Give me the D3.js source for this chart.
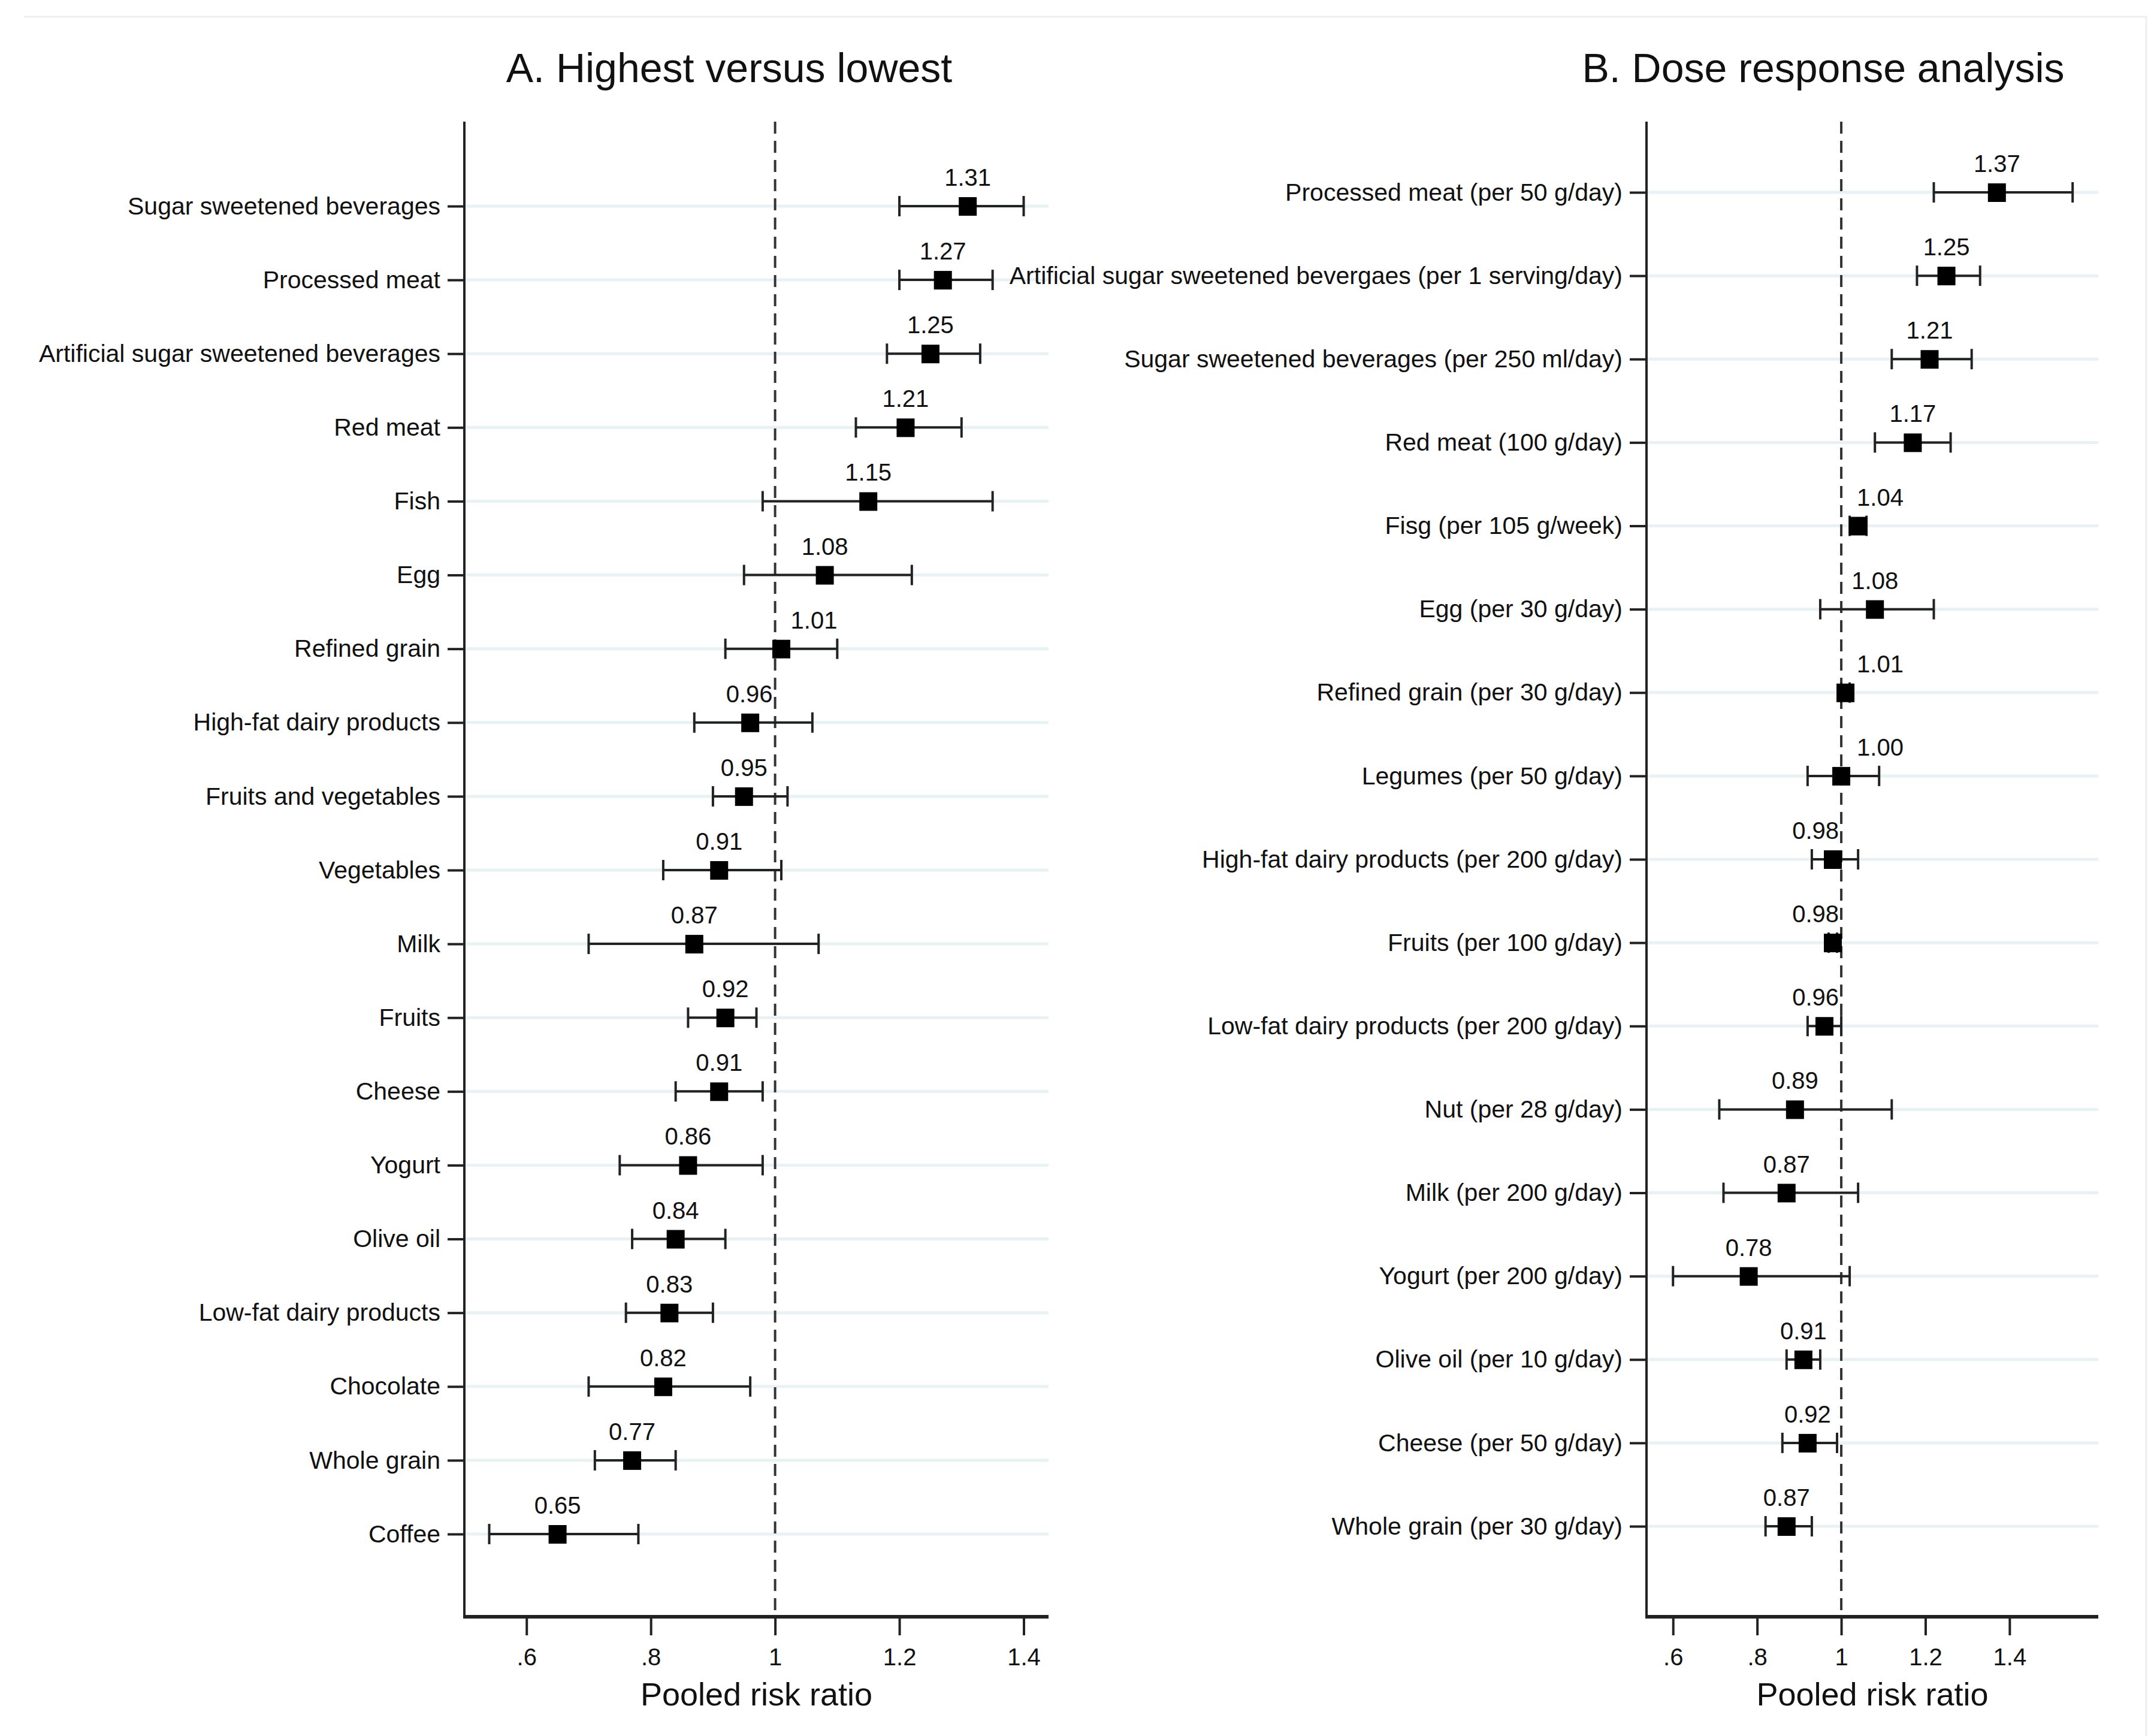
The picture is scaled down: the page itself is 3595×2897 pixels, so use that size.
<!DOCTYPE html>
<html>
<head>
<meta charset="utf-8">
<script src="https://cdn.jsdelivr.net/npm/d3@7"></script>
<style>
  body { margin: 0; background: #fff; }
  text { font-family: "Liberation Sans", Arial, sans-serif; fill: #111; }
</style>
</head>
<body>
<svg id="chart"></svg>
<script>
const W = 3595, H = 2897;

// panel A: highest versus lowest
const labelsA = ["Sugar sweetened beverages", "Processed meat", "Artificial sugar sweetened beverages",
  "Red meat", "Fish", "Egg", "Refined grain", "High-fat dairy products", "Fruits and vegetables",
  "Vegetables", "Milk", "Fruits", "Cheese", "Yogurt", "Olive oil", "Low-fat dairy products",
  "Chocolate", "Whole grain", "Coffee"];
const rrA = [1.31, 1.27, 1.25, 1.21, 1.15, 1.08, 1.01, 0.96, 0.95, 0.91, 0.87, 0.92, 0.91, 0.86, 0.84, 0.83, 0.82, 0.77, 0.65];
const loA = [1.20, 1.20, 1.18, 1.13, 0.98, 0.95, 0.92, 0.87, 0.90, 0.82, 0.70, 0.86, 0.84, 0.75, 0.77, 0.76, 0.70, 0.71, 0.54];
const hiA = [1.40, 1.35, 1.33, 1.30, 1.35, 1.22, 1.10, 1.06, 1.02, 1.01, 1.07, 0.97, 0.98, 0.98, 0.92, 0.90, 0.96, 0.84, 0.78];

// panel B: dose response
const labelsB = ["Processed meat (per 50 g/day)", "Artificial sugar sweetened bevergaes (per 1 serving/day)",
  "Sugar sweetened beverages (per 250 ml/day)", "Red meat (100 g/day)", "Fisg (per 105 g/week)",
  "Egg (per 30 g/day)", "Refined grain (per 30 g/day)", "Legumes (per 50 g/day)",
  "High-fat dairy products (per 200 g/day)", "Fruits (per 100 g/day)", "Low-fat dairy products (per 200 g/day)",
  "Nut (per 28 g/day)", "Milk (per 200 g/day)", "Yogurt (per 200 g/day)", "Olive oil (per 10 g/day)",
  "Cheese (per 50 g/day)", "Whole grain (per 30 g/day)"];
const rrB = [1.37, 1.25, 1.21, 1.17, 1.04, 1.08, 1.01, 1.00, 0.98, 0.98, 0.96, 0.89, 0.87, 0.78, 0.91, 0.92, 0.87];
const loB = [1.22, 1.18, 1.12, 1.08, 1.02, 0.95, 1.00, 0.92, 0.93, 0.97, 0.92, 0.71, 0.72, 0.60, 0.87, 0.86, 0.82];
const hiB = [1.55, 1.33, 1.31, 1.26, 1.06, 1.22, 1.02, 1.09, 1.04, 0.99, 1.00, 1.12, 1.04, 1.02, 0.95, 0.99, 0.93];

const xTicks = [0.6, 0.8, 1.0, 1.2, 1.4];
const xTickLabels = [".6", ".8", "1", "1.2", "1.4"];

const svg = d3.select("#chart").attr("width", W).attr("height", H);
svg.append("rect").attr("width", W).attr("height", H).attr("fill", "#fff");

// faint frame of the original export
svg.append("path").attr("d", "M40,28H3582V2897")
  .attr("fill", "none").attr("stroke", "#eeeeee").attr("stroke-width", 3);

const fmt = d3.format(".2f");

function drawPanel(p) {
  const g = svg.append("g");
  const x = d3.scaleLinear().domain(p.domain).range([p.left, p.right]);
  const y = d3.scalePoint().domain(p.labels).range(p.rows);
  const rows = p.labels.map((l, i) => ({ label: l, rr: p.rr[i], lo: p.lo[i], hi: p.hi[i] }));

  // title
  g.append("text").attr("x", p.titleX).attr("y", 137).attr("text-anchor", "middle")
    .style("font-size", "68px").text(p.title);

  // grid lines
  g.selectAll(".grid").data(rows).enter().append("line")
    .attr("x1", p.left).attr("x2", p.right)
    .attr("y1", d => y(d.label)).attr("y2", d => y(d.label))
    .attr("stroke", "#e8f1f3").attr("stroke-width", 5);

  // y axis with labels
  const yAxis = d3.axisLeft(y).tickSize(28).tickPadding(12);
  const ya = g.append("g").attr("transform", `translate(${p.left},0)`).call(yAxis);
  ya.select(".domain").remove();
  ya.selectAll(".tick line").attr("stroke", "#222").attr("stroke-width", 4);
  ya.selectAll(".tick text").style("font-size", "41px").attr("fill", "#111");
  g.append("line").attr("x1", p.left).attr("x2", p.left).attr("y1", p.top).attr("y2", p.bottom + 2)
    .attr("stroke", "#222").attr("stroke-width", 4);

  // x axis
  const xAxis = d3.axisBottom(x).tickValues(xTicks).tickSize(31).tickPadding(22)
    .tickFormat((d, i) => xTickLabels[i]);
  const xa = g.append("g").attr("transform", `translate(0,${p.bottom})`).call(xAxis);
  xa.select(".domain").remove();
  xa.selectAll(".tick line").attr("stroke", "#222").attr("stroke-width", 4);
  xa.selectAll(".tick text").style("font-size", "40px").attr("fill", "#111");
  g.append("line").attr("x1", p.left - 2).attr("x2", p.right).attr("y1", p.bottom).attr("y2", p.bottom)
    .attr("stroke", "#222").attr("stroke-width", 6);

  g.append("text").attr("x", (p.left + p.right) / 2).attr("y", p.bottom + 148)
    .attr("text-anchor", "middle").style("font-size", "54px").text("Pooled risk ratio");

  // reference line at 1
  const x1 = x(1);
  g.append("line").attr("x1", x1).attr("x2", x1).attr("y1", p.top).attr("y2", p.bottom)
    .attr("stroke", "#333").attr("stroke-width", 4).attr("stroke-dasharray", "20,12");

  // confidence intervals
  const ci = g.selectAll(".ci").data(rows).enter().append("g");
  ci.append("line").attr("x1", d => x(d.lo)).attr("x2", d => x(d.hi))
    .attr("y1", d => y(d.label)).attr("y2", d => y(d.label))
    .attr("stroke", "#222").attr("stroke-width", 4);
  ["lo", "hi"].forEach(k => {
    ci.append("line").attr("x1", d => x(d[k])).attr("x2", d => x(d[k]))
      .attr("y1", d => y(d.label) - 17).attr("y2", d => y(d.label) + 17)
      .attr("stroke", "#222").attr("stroke-width", 4);
  });

  // point estimates
  g.selectAll(".pt").data(rows).enter().append("rect")
    .attr("x", d => x(d.rr) - 15).attr("y", d => y(d.label) - 15)
    .attr("width", 30).attr("height", 31).attr("fill", "#000");

  // value labels, pushed off the reference line when they would cross it
  g.selectAll(".val").data(rows).enter().append("text")
    .attr("x", d => x(d.rr)).attr("y", d => y(d.label) - 34)
    .attr("text-anchor", "middle").style("font-size", "40px")
    .text(d => fmt(d.rr))
    .each(function(d) {
      const w = this.getComputedTextLength();
      const cx = x(d.rr);
      if (cx - w / 2 < x1 + 6 && cx + w / 2 > x1 - 6) {
        if (d.rr >= 1) {
          d3.select(this).attr("text-anchor", "start").attr("x", x1 + 26);
        } else {
          d3.select(this).attr("text-anchor", "end").attr("x", x1 - 4);
        }
      }
    });
}

drawPanel({
  title: "A. Highest versus lowest", titleX: 1217,
  labels: labelsA, rr: rrA, lo: loA, hi: hiA,
  left: 775, right: 1750, top: 203, bottom: 2698, rows: [344, 2560],
  domain: [0.5, 1.44]
});

drawPanel({
  title: "B. Dose response analysis", titleX: 3043,
  labels: labelsB, rr: rrB, lo: loB, hi: hiB,
  left: 2748, right: 3502, top: 203, bottom: 2698, rows: [321, 2547],
  domain: [0.537, 1.611]
});
</script>
</body>
</html>
